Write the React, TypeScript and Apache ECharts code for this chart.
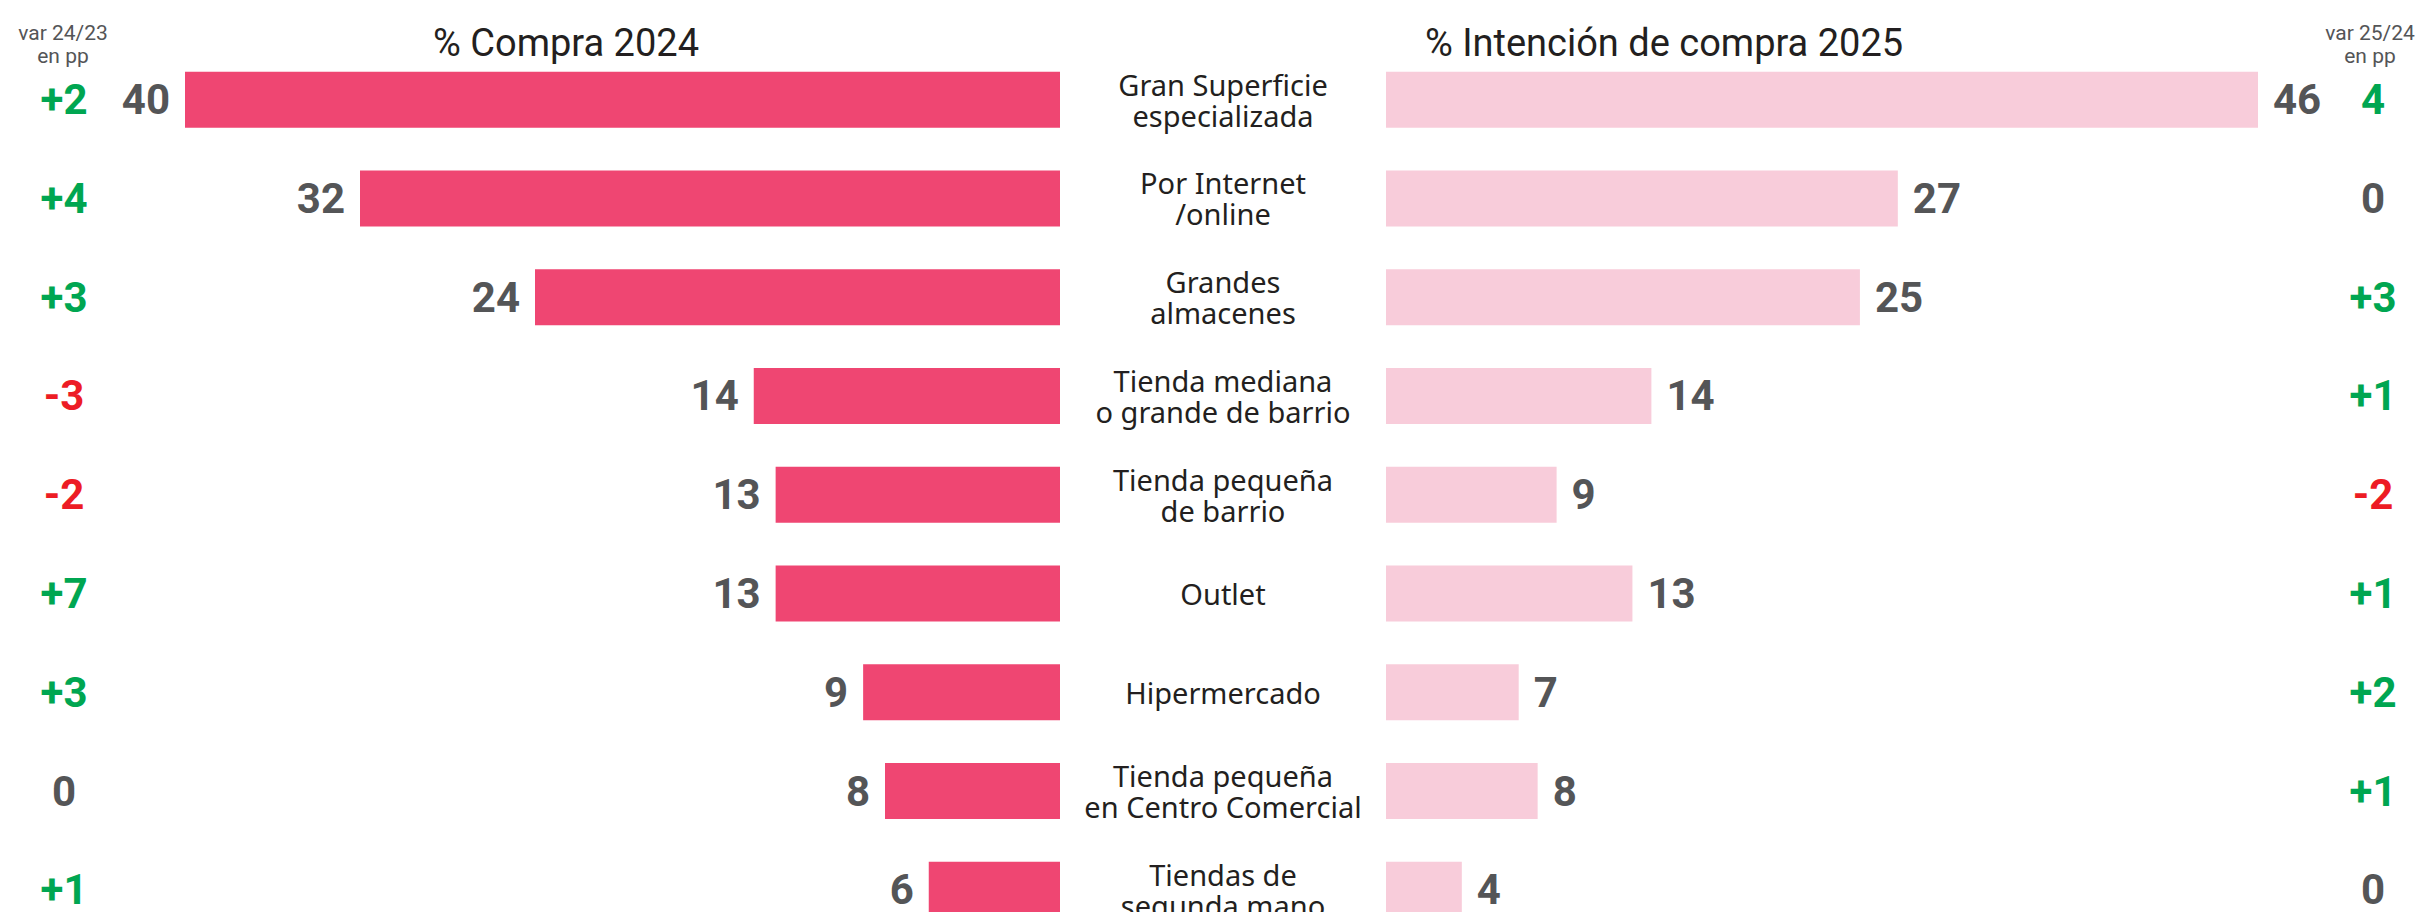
import React, { useEffect, useRef } from "react";
import * as echarts from "echarts";

const categories = [
  "Gran Superficie\nespecializada",
  "Por Internet\n/online",
  "Grandes\nalmacenes",
  "Tienda mediana\no grande de barrio",
  "Tienda pequeña\nde barrio",
  "Outlet",
  "Hipermercado",
  "Tienda pequeña\nen Centro Comercial",
  "Tiendas de\nsegunda mano",
];
const compra2024 = [40, 32, 24, 14, 13, 13, 9, 8, 6];
const intencion2025 = [46, 27, 25, 14, 9, 13, 7, 8, 4];
const var2423 = ["+2", "+4", "+3", "-3", "-2", "+7", "+3", "0", "+1"];
const var2524 = ["4", "0", "+3", "+1", "-2", "+1", "+2", "+1", "0"];

const titleLeft = "% Compra 2024";
const titleRight = "% Intención de compra 2025";
const headLeft = "var 24/23\nen pp";
const headRight = "var 25/24\nen pp";

const FONT = "Roboto, 'Liberation Sans', sans-serif";
const CAT_FONT = "'Noto Sans', Roboto, sans-serif";
const GREEN = "#00A651";
const RED = "#ED1C24";
const GRAY = "#545557";
const DARK = "#231F20";

function varTag(v: string) {
  if (v.startsWith("-")) return "r";
  if (v === "0") return "z";
  return "g";
}

const varRich = {
  g: { color: GREEN, fontSize: 42, fontWeight: "bold", fontFamily: FONT },
  r: { color: RED, fontSize: 42, fontWeight: "bold", fontFamily: FONT },
  z: { color: GRAY, fontSize: 42, fontWeight: "bold", fontFamily: FONT },
};

export default function App() {
  const ref = useRef<HTMLDivElement>(null);
  useEffect(() => {
    document.body.style.margin = "0";
    const chart = echarts.init(ref.current!, null, { renderer: "svg" });
    const rows = categories.length;
    const band = 98.76;
    const top = 50.3;
    const gridH = band * rows;
    const numLabel = {
      show: true,
      fontSize: 42,
      fontWeight: "bold",
      fontFamily: FONT,
      color: GRAY,
      distance: 15,
    };
    const hiddenCat = {
      type: "category",
      data: categories,
      inverse: true,
      axisLine: { show: false },
      axisTick: { show: false },
      splitLine: { show: false },
    };
    chart.setOption({
      animation: false,
      backgroundColor: "#ffffff",
      grid: [
        { left: 185, width: 875, top, height: gridH },
        { left: 1386, width: 872, top, height: gridH },
      ],
      xAxis: [
        { type: "value", gridIndex: 0, min: 0, max: Math.max(...compra2024), inverse: true, show: false },
        { type: "value", gridIndex: 1, min: 0, max: Math.max(...intencion2025), show: false },
      ],
      yAxis: [
        {
          ...hiddenCat,
          gridIndex: 0,
          position: "left",
          axisLabel: {
            interval: 0,
            margin: 121,
            align: "center",
            formatter: (_v: string, i: number) => `{${varTag(var2423[i])}|${var2423[i]}}`,
            rich: varRich,
          },
        },
        {
          ...hiddenCat,
          gridIndex: 1,
          position: "left",
          axisLabel: {
            interval: 0,
            margin: 163,
            align: "center",
            fontSize: 29,
            lineHeight: 31,
            fontFamily: CAT_FONT,
            color: DARK,
          },
        },
        {
          ...hiddenCat,
          gridIndex: 1,
          position: "right",
          axisLabel: {
            interval: 0,
            margin: 115,
            align: "center",
            formatter: (_v: string, i: number) => `{${varTag(var2524[i])}|${var2524[i]}}`,
            rich: varRich,
          },
        },
      ],
      series: [
        {
          type: "bar",
          xAxisIndex: 0,
          yAxisIndex: 0,
          data: compra2024,
          barWidth: 56,
          itemStyle: { color: "#EF4672" },
          label: { ...numLabel, position: "left" },
        },
        {
          type: "bar",
          xAxisIndex: 1,
          yAxisIndex: 1,
          data: intencion2025,
          barWidth: 56,
          itemStyle: { color: "#F8CCDA" },
          label: { ...numLabel, position: "right" },
        },
      ],
      graphic: [
        {
          type: "text",
          x: 566,
          y: 43,
          style: { text: titleLeft, fontSize: 38, fontFamily: FONT, fill: DARK, align: "center", verticalAlign: "middle" },
        },
        {
          type: "text",
          x: 1664,
          y: 43,
          style: { text: titleRight, fontSize: 38, fontFamily: FONT, fill: DARK, align: "center", verticalAlign: "middle" },
        },
        {
          type: "text",
          x: 63,
          y: 44,
          style: { text: headLeft, fontSize: 21, lineHeight: 23, fontFamily: FONT, fill: GRAY, align: "center", verticalAlign: "middle" },
        },
        {
          type: "text",
          x: 2370,
          y: 44,
          style: { text: headRight, fontSize: 21, lineHeight: 23, fontFamily: FONT, fill: GRAY, align: "center", verticalAlign: "middle" },
        },
      ],
    });
    return () => chart.dispose();
  }, []);
  return (
    <div style={{ position: "fixed", left: 0, top: 0, width: 2420, height: 912, overflow: "hidden", background: "#fff" }}>
      <div ref={ref} style={{ width: 2420, height: 1000 }} />
    </div>
  );
}
